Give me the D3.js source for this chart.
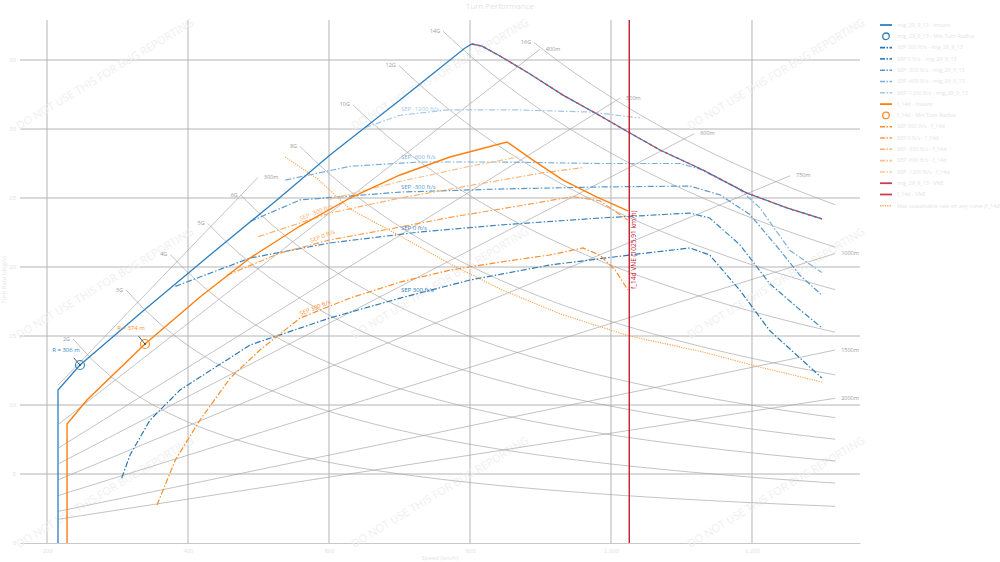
<!DOCTYPE html>
<html>
<head>
<meta charset="utf-8">
<script src="https://cdn.jsdelivr.net/npm/d3@7"></script>
<style>
body { margin: 0; background: #fff; font-family: "Open Sans", "DejaVu Sans", sans-serif; }
</style>
</head>
<body>
<div id="chart"></div>
<script>
// axes
var xTicks = [200, 400, 600, 800, 1000, 1200];
var yTicks = [0, 5, 10, 15, 20, 25, 30, 35];

// reference lines: load factor and turn radius
var gLoads = [2, 3, 4, 5, 6, 8, 10, 12, 14, 16];
var gStart = [237, 312, 375, 428, 475, 559, 634, 699, 762, 891];
var gEnd = 1318;
var radii = [300, 400, 500, 600, 750, 1000, 1500, 2000];
var radiusStart = 216;
var radiusEnd = [499, 899, 1013, 1118, 1254, 1318, 1318, 1318];

// mig_29_9_13 (blue)
var blueInstant = [[215.6, 0], [215.6, 11.09], [246.8, 12.9], [336.2, 16.81], [431.2, 20.87], [526.2, 24.86],
  [601.4, 28.12], [700.7, 32.1], [792.9, 35.87], [802.8, 36.16], [817, 36.01], [842.5, 35.29], [885.1, 33.99],
  [931.9, 32.46], [980.1, 31.09], [1026.9, 29.71], [1069.5, 28.48], [1130.5, 27.03], [1192.9, 25.36],
  [1249.6, 24.28], [1299.3, 23.48]];
var blueLimit = [[802.8, 36.16], [817, 36.01], [842.5, 35.29], [885.1, 33.99], [931.9, 32.46], [980.1, 31.09],
  [1026.9, 29.71], [1069.5, 28.48], [1130.5, 27.03], [1192.9, 25.36], [1249.6, 24.28], [1299.3, 23.48]];
var blueMinRadius = [246.8, 12.9, 306];
var blueSep300 = [[306, 4.71], [318, 6.4], [346, 8.9], [389, 11.1], [488, 14.35], [601, 16.3], [701, 17.75],
  [800, 19.06], [913, 20.14], [1026, 20.87], [1112, 21.38], [1140, 20.87], [1183, 18.3], [1225, 15.4], [1299, 11.96]];
var blueSep0 = [[382, 18.6], [488, 20.65], [601, 21.74], [729, 22.54], [842, 23.04], [984, 23.55], [1112, 23.91],
  [1140, 23.55], [1183, 21.6], [1225, 18.8], [1268, 16.9], [1299, 15.6]];
var blueSep300n = [[488, 23.3], [559, 24.86], [701, 25.43], [842, 25.65], [984, 25.8], [1112, 25.87], [1155, 25.22],
  [1197, 23.8], [1240, 21.2], [1268, 19.4], [1299, 17.97]];
var blueSep600n = [[538, 26.3], [630, 27.3], [729, 27.61], [842, 27.61], [984, 27.5], [1098, 27.5], [1126, 27.1],
  [1183, 25.6], [1211, 24.3], [1254, 21.2], [1299, 19.6]];
var blueSep1200n = [[651, 30.1], [701, 31.0], [768, 31.38], [871, 31.38], [970, 31.23], [1041, 30.8]];

// f_14d (orange)
var orangeInstant = [[228.4, 0], [228.4, 8.62], [256.7, 10.36], [339, 14.42], [417, 17.83], [487.9, 20.65],
  [558.9, 22.97], [629.8, 25], [700.7, 26.67], [771.6, 27.97], [852.5, 29.06], [889.3, 27.75], [931.9, 26.3],
  [980.1, 25.07], [1024.1, 24.06]];
var orangeMinRadius = [339, 14.42, 374];
var orangeSep300 = [[356, 2.75], [382, 6.01], [417, 8.91], [460, 11.96], [502, 13.99], [559, 16.3], [630, 17.75],
  [701, 18.91], [772, 19.78], [843, 20.36], [913, 20.87], [960, 21.38], [984, 20.87], [1006, 19.78], [1024, 18.33]];
var orangeSep0 = [[455, 19.4], [530, 21.0], [601, 21.96], [701, 22.9], [772, 23.6], [843, 24.2], [946, 25.1],
  [984, 24.8], [1024, 23.4]];
var orangeSep300n = [[500, 22.2], [601, 23.9], [701, 25.0], [800, 25.9], [900, 26.8], [960, 27.2]];
var orangeSep600n = [[600, 24.9], [701, 26.2], [800, 27.3], [871, 28.0]];
var orangeSustain = [[538, 27.97], [584, 26.38], [630, 24.2], [701, 22.25], [772, 20.22], [843, 18.4],
  [928, 16.6], [1026, 15.0], [1126, 13.9], [1211, 12.75], [1299, 11.67]];
var vne = 1025.91;

var width = 1000, height = 562;
var margin = {left: 20, right: 140, top: 20, bottom: 19};

var svg = d3.select("#chart")
  .append("svg")
  .attr("width", width)
  .attr("height", height);

var x = d3.scaleLinear().domain([161.7, 1353.2]).range([margin.left, width - margin.right]);
var y = d3.scaleLinear().domain([0, 37.9]).range([height - margin.bottom, margin.top]);

var faint = "#e4e4e4";

// grid
svg.append("g").selectAll("line").data(xTicks).enter().append("line")
  .attr("x1", d => x(d)).attr("x2", d => x(d))
  .attr("y1", y(37.9)).attr("y2", y(0))
  .attr("stroke", "#b4b4b4").attr("stroke-width", 1);
svg.append("g").selectAll("line").data(yTicks.slice(1)).enter().append("line")
  .attr("x1", x.range()[0]).attr("x2", x.range()[1])
  .attr("y1", d => y(d)).attr("y2", d => y(d))
  .attr("stroke", "#b4b4b4").attr("stroke-width", 1);

var xAxis = svg.append("g")
  .attr("transform", "translate(0," + y(0) + ")")
  .call(d3.axisBottom(x).tickValues(xTicks).tickSize(0).tickPadding(6));
xAxis.select(".domain").attr("stroke", "#c8c8c8");
xAxis.selectAll("text").attr("fill", faint).style("font-size", "6px");

var yAxis = svg.append("g")
  .attr("transform", "translate(" + x.range()[0] + ",0)")
  .call(d3.axisLeft(y).tickValues(yTicks).tickSize(0).tickPadding(4));
yAxis.select(".domain").remove();
yAxis.selectAll("text").attr("fill", faint).style("font-size", "6px");

// watermark
var wm = [];
[105, 440, 776].forEach(cx => [74, 283, 492].forEach(cy => wm.push([cx, cy])));
svg.append("g").selectAll("text").data(wm).enter().append("text")
  .attr("transform", d => "translate(" + d[0] + "," + d[1] + ") rotate(-31)")
  .attr("text-anchor", "middle").attr("dy", "0.35em")
  .attr("fill", "#efefef").style("font-size", "11px")
  .text("DO NOT USE THIS FOR BUG REPORTING");

var line = d3.line().x(d => x(d[0])).y(d => y(d[1]));
var rad = 180 / Math.PI;

// constant G lines
gLoads.forEach(function(n, i) {
  var pts = d3.range(0, 41).map(k => {
    var v = gStart[i] + (gEnd - gStart[i]) * k / 40;
    return [v, 9.81 * Math.sqrt(n * n - 1) / (v / 3.6) * rad];
  });
  svg.append("path").attr("d", line(pts)).attr("fill", "none")
    .attr("stroke", "#a0a0a0").attr("stroke-opacity", 0.7).attr("stroke-width", 0.9);
  svg.append("text").attr("x", x(pts[0][0]) - 3).attr("y", y(pts[0][1]))
    .attr("text-anchor", "end").attr("dy", "0.3em")
    .attr("fill", "#9a9a9a").style("font-size", "5.5px").text(n + "G");
});

// constant radius lines
radii.forEach(function(r, i) {
  var pts = [radiusStart, radiusEnd[i]].map(v => [v, (v / 3.6) / r * rad]);
  svg.append("path").attr("d", line(pts)).attr("fill", "none")
    .attr("stroke", "#a0a0a0").attr("stroke-opacity", 0.7).attr("stroke-width", 0.9);
  svg.append("text").attr("x", x(pts[1][0]) + 6).attr("y", y(pts[1][1]))
    .attr("dy", "0.3em")
    .attr("fill", "#9a9a9a").style("font-size", "5.5px").text(r + "m");
});

var dashDot = "6,2,1.5,2";

function drawSeries(data, color, opts) {
  opts = opts || {};
  svg.append("path").attr("d", line(data)).attr("fill", "none")
    .attr("stroke", color).attr("stroke-width", opts.w || 1.2)
    .attr("stroke-dasharray", opts.dash || null);
}

function valueAt(data, v) {
  for (var i = 1; i < data.length; i++) {
    if (data[i][0] >= v) {
      var a = data[i - 1], b = data[i];
      return a[1] + (b[1] - a[1]) * (v - a[0]) / (b[0] - a[0]);
    }
  }
  return data[data.length - 1][1];
}

// SEP curves
var blueSeps = [
  {d: blueSep300, c: "#2a78b8", lab: "SEP 300 ft/s"},
  {d: blueSep0, c: "#3f86c2", lab: "SEP 0 ft/s"},
  {d: blueSep300n, c: "#5b98cc", lab: "SEP -300 ft/s"},
  {d: blueSep600n, c: "#7eafd8", lab: "SEP -600 ft/s"},
  {d: blueSep1200n, c: "#a5c8e6", lab: "SEP -1200 ft/s"}
];
var orangeSeps = [
  {d: orangeSep300, c: "#ff8c2a", lab: "SEP 300 ft/s", at: 560},
  {d: orangeSep0, c: "#ff9c48", lab: "SEP 0 ft/s", at: 575},
  {d: orangeSep300n, c: "#ffae68", lab: "SEP -300 ft/s", at: 560},
  {d: orangeSep600n, c: "#ffbf88", lab: "SEP -600 ft/s"}
];
blueSeps.forEach(s => drawSeries(s.d, s.c, {dash: dashDot}));
orangeSeps.forEach(s => drawSeries(s.d, s.c, {dash: dashDot}));

blueSeps.forEach(function(s) {
  svg.append("text").attr("x", x(702)).attr("y", y(valueAt(s.d, 720)) - 3)
    .attr("fill", s.c).style("font-size", "6px").text(s.lab);
});
orangeSeps.slice(0, 3).forEach(function(s) {
  svg.append("text").attr("transform", "translate(" + x(s.at) + "," + (y(valueAt(s.d, s.at)) - 2) + ") rotate(-22)")
    .attr("fill", s.c).style("font-size", "6px").text(s.lab);
});

// sustained rate
drawSeries(orangeSustain, "#ff9f4a", {dash: "1.2,1.2", w: 1.1});

// envelopes
drawSeries(blueInstant, "#2f7fbf", {w: 1.3});
drawSeries(blueLimit, "#d6404e", {w: 1.3, dash: "3,3"});
drawSeries(orangeInstant, "#ff7f0e", {w: 1.4});

// VNE
svg.append("line").attr("x1", x(vne)).attr("x2", x(vne))
  .attr("y1", y(37.9)).attr("y2", y(0))
  .attr("stroke", "#c8192e").attr("stroke-width", 1.4);
svg.append("text").attr("transform", "translate(" + (x(vne) + 7) + "," + y(18.4) + ") rotate(-90)")
  .attr("fill", "#c8192e").style("font-size", "6.6px").text("f_14d VNE (1025.91 km/h)");

// min turn radius markers
function minRadius(m, color, dx, dy) {
  var cx = x(m[0]), cy = y(m[1]);
  svg.append("circle").attr("cx", cx).attr("cy", cy).attr("r", 4.5)
    .attr("fill", "none").attr("stroke", color).attr("stroke-width", 1.2);
  svg.append("line").attr("x1", cx + dx * 0.45).attr("y1", cy + dy * 0.55).attr("x2", cx).attr("y2", cy)
    .attr("stroke", "#444").attr("stroke-width", 0.9);
  svg.append("circle").attr("cx", cx).attr("cy", cy).attr("r", 1).attr("fill", "#444");
  svg.append("text").attr("x", cx + dx).attr("y", cy + dy).attr("text-anchor", "middle")
    .attr("fill", color).style("font-size", "6px").text("R = " + m[2] + " m");
}
minRadius(blueMinRadius, "#3a86c4", -14, -13);
minRadius(orangeMinRadius, "#ff8c2a", -14, -14);

// titles
svg.append("text").attr("x", 500).attr("y", 9).attr("text-anchor", "middle")
  .attr("fill", faint).style("font-size", "8px").text("Turn Performance");
svg.append("text").attr("x", 440).attr("y", 560).attr("text-anchor", "middle")
  .attr("fill", faint).style("font-size", "6px").text("Speed (km/h)");
svg.append("text").attr("transform", "translate(6,280) rotate(-90)").attr("text-anchor", "middle")
  .attr("fill", faint).style("font-size", "6px").text("Turn Rate (deg/s)");

// legend
var legendItems = [
  {t: "mig_29_9_13 - Instant", c: "#2f7fbf", k: "line"},
  {t: "mig_29_9_13 - Min Turn Radius", c: "#2f7fbf", k: "circle"},
  {t: "SEP 300 ft/s - mig_29_9_13", c: "#2a78b8", k: "dash"},
  {t: "SEP 0 ft/s - mig_29_9_13", c: "#3f86c2", k: "dash"},
  {t: "SEP -300 ft/s - mig_29_9_13", c: "#5b98cc", k: "dash"},
  {t: "SEP -600 ft/s - mig_29_9_13", c: "#7eafd8", k: "dash"},
  {t: "SEP -1200 ft/s - mig_29_9_13", c: "#a5c8e6", k: "dash"},
  {t: "f_14d - Instant", c: "#ff7f0e", k: "line"},
  {t: "f_14d - Min Turn Radius", c: "#ff8c2a", k: "circle"},
  {t: "SEP 300 ft/s - f_14d", c: "#ff8c2a", k: "dash"},
  {t: "SEP 0 ft/s - f_14d", c: "#ff9c48", k: "dash"},
  {t: "SEP -300 ft/s - f_14d", c: "#ffae68", k: "dash"},
  {t: "SEP -600 ft/s - f_14d", c: "#ffbf88", k: "dash"},
  {t: "SEP -1200 ft/s - f_14d", c: "#ffcfa5", k: "dash"},
  {t: "mig_29_9_13 - VNE", c: "#c84050", k: "line"},
  {t: "f_14d - VNE", c: "#c84050", k: "line"},
  {t: "Max sustainable rate on any curve (f_14d)", c: "#ffa050", k: "dot"}
];
var lg = svg.append("g").selectAll("g").data(legendItems).enter().append("g")
  .attr("transform", (d, i) => "translate(880," + (25 + i * 11.3) + ")");
lg.filter(d => d.k !== "circle").append("line")
  .attr("x1", 0).attr("x2", 12).attr("y1", 0).attr("y2", 0)
  .attr("stroke", d => d.c).attr("stroke-width", d => d.k === "line" ? 1.8 : 1.6)
  .attr("stroke-dasharray", d => d.k === "dash" ? "5,1.5,1.5,1.5" : d.k === "dot" ? "1.2,1.2" : null);
lg.filter(d => d.k === "circle").append("circle")
  .attr("cx", 6).attr("cy", 0).attr("r", 3.3)
  .attr("fill", "none").attr("stroke", d => d.c).attr("stroke-width", 1.3);
lg.append("text").attr("x", 17).attr("dy", "0.33em")
  .attr("fill", faint).style("font-size", "5.4px").text(d => d.t);
</script>
</body>
</html>
